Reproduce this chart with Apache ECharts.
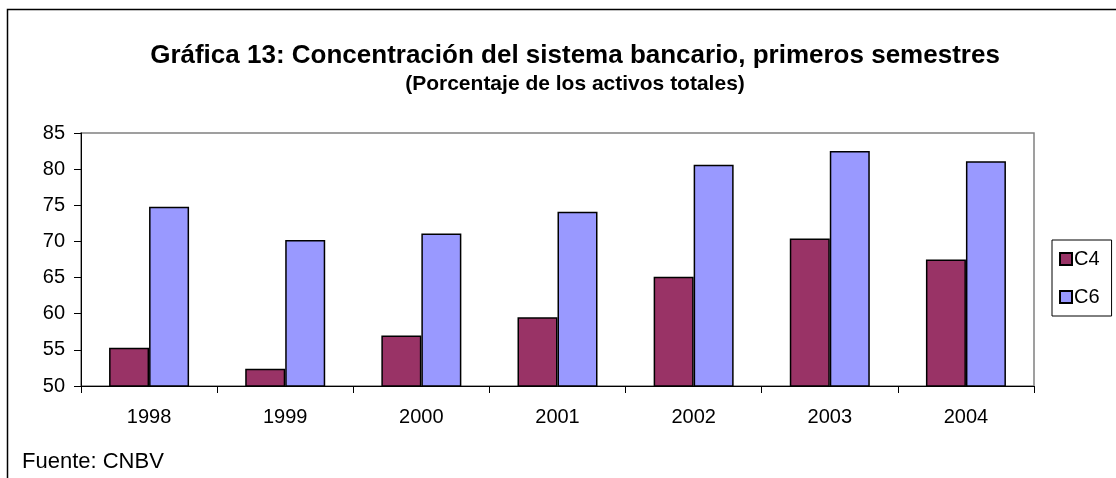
<!DOCTYPE html>
<html>
<head>
<meta charset="utf-8">
<script src="https://cdn.jsdelivr.net/npm/echarts@6/dist/echarts.min.js"></script>
<style>html,body{margin:0;padding:0;background:#fff}#c{width:1116px;height:478px}</style>
</head>
<body>
<div id="c"></div>
<script>
const years = ['1998','1999','2000','2001','2002','2003','2004'];
const c4 = [55.3, 52.4, 57.0, 59.5, 65.1, 70.4, 67.5];
const c6 = [74.8, 70.2, 71.1, 74.1, 80.6, 82.5, 81.1];
const yTicks = [50, 55, 60, 65, 70, 75, 80, 85];

const chart = echarts.init(document.getElementById('c'), null, {renderer: 'canvas'});
const font = 'Liberation Sans, Arial, sans-serif';
chart.setOption({
  animation: false,
  backgroundColor: '#fff',
  title: {
    text: 'Gráfica 13: Concentración del sistema bancario, primeros semestres',
    subtext: '(Porcentaje de los activos totales)',
    left: 570, top: 38, textAlign: 'center', itemGap: 5,
    textStyle: {fontFamily: font, fontWeight: 'bold', fontSize: 26, color: '#000'},
    subtextStyle: {fontFamily: font, fontWeight: 'bold', fontSize: 21, color: '#000'}
  },
  legend: {
    orient: 'vertical', left: 1052, top: 240,
    padding: [9, 12, 9, 7], itemGap: 18,
    borderColor: '#000', borderWidth: 1, backgroundColor: '#fff', borderRadius: 0,
    itemWidth: 12, itemHeight: 12, icon: 'rect',
    textStyle: {fontFamily: font, fontSize: 20, color: '#000', padding: [0,0,0,-3]},
    data: ['C4', 'C6']
  },
  grid: {left: 81, right: 82, top: 133, bottom: 92, show: true, borderColor: '#808080', borderWidth: 1.5},
  xAxis: {
    type: 'category', data: years, boundaryGap: true,
    axisLine: {lineStyle: {color: '#000', width: 1}},
    axisTick: {show: true, length: 7, lineStyle: {color: '#000'}},
    axisLabel: {fontFamily: font, fontSize: 20, color: '#000', margin: 21}
  },
  yAxis: {
    type: 'value', min: yTicks[0], max: yTicks[yTicks.length-1], interval: 5,
    axisLine: {show: true, lineStyle: {color: '#000', width: 1}},
    axisTick: {show: true, length: 7, lineStyle: {color: '#000'}},
    splitLine: {show: false},
    axisLabel: {fontFamily: font, fontSize: 20, color: '#000', margin: 16}
  },
  series: [
    {name: 'C4', type: 'bar', data: c4, barWidth: 40, barGap: '0%',
     itemStyle: {color: '#993366', borderColor: '#000', borderWidth: 1.5}},
    {name: 'C6', type: 'bar', data: c6, barWidth: 40, barGap: '0%',
     itemStyle: {color: '#9999FF', borderColor: '#000', borderWidth: 1.5}}
  ],
  graphic: [
    {type: 'rect', shape: {x: 7.5, y: 9.5, width: 1200, height: 600}, style: {fill: 'none', stroke: '#000', lineWidth: 1.5}, z: 100},
    {type: 'text', left: 22, top: 451, style: {text: 'Fuente: CNBV', font: '22px ' + font, fill: '#000'}}
  ]
});
</script>
</body>
</html>
